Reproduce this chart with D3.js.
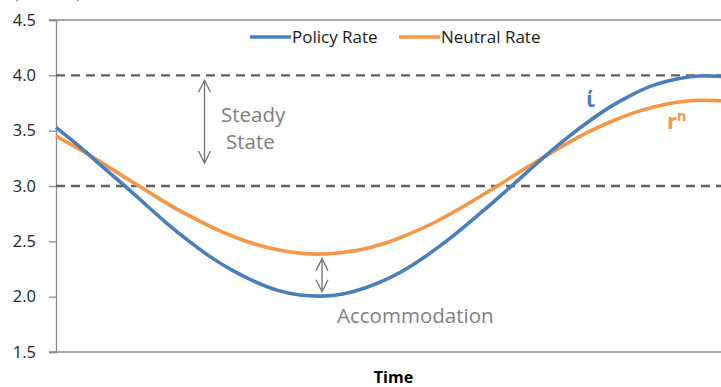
<!DOCTYPE html>
<html>
<head>
<meta charset="utf-8">
<script src="https://cdn.jsdelivr.net/npm/d3@7"></script>
<style>
  html, body { margin: 0; padding: 0; background: #fff; }
  svg { display: block; font-family: "Open Sans", "Noto Sans", sans-serif; }
</style>
</head>
<body>
<svg id="chart" width="721" height="387"></svg>
<script>
// Time steps along the cycle
const timeSteps = d3.range(0, 31);
// Policy rate (percent) at each time step
const policyRate = [3.53, 3.37, 3.19, 3.02, 2.84, 2.66, 2.50, 2.35, 2.23, 2.13, 2.05, 2.01, 2.00, 2.02, 2.08, 2.16,
  2.27, 2.41, 2.56, 2.73, 2.90, 3.08, 3.26, 3.43, 3.58, 3.72, 3.83, 3.92, 3.97, 4.00, 3.99];
// Neutral rate (percent) at each time step
const neutralRate = [3.45, 3.34, 3.22, 3.09, 2.97, 2.84, 2.73, 2.63, 2.54, 2.47, 2.42, 2.39, 2.38, 2.40, 2.43, 2.49,
  2.57, 2.66, 2.77, 2.89, 3.01, 3.14, 3.26, 3.38, 3.49, 3.58, 3.66, 3.72, 3.76, 3.78, 3.77];
// Steady-state band bounds
const steadyBand = [4.0, 3.0];
// Y axis ticks
const yTicks = [1.5, 2.0, 2.5, 3.0, 3.5, 4.0, 4.5];
const seriesNames = ["Policy Rate", "Neutral Rate"];
const colors = { policy: "#4a7ebb", neutral: "#f79646" };

const svg = d3.select("#chart");
const plotLeft = 56, plotRight = 721, plotTop = 20, plotBottom = 352;

const x = d3.scaleLinear().domain([0, 30]).range([plotLeft, plotRight]);
const y = d3.scaleLinear().domain([1.5, 4.5]).range([plotBottom, plotTop]);

// Unit label (partly above the frame)
svg.append("text").attr("x", 14).attr("y", -1).attr("font-size", 16)
  .attr("fill", colors.policy).text("(Percent)");

// Top frame line and bottom axis line
svg.append("line").attr("x1", 49).attr("x2", plotRight).attr("y1", y(4.5)).attr("y2", y(4.5))
  .attr("stroke", "#8c8c8c").attr("stroke-width", 1.3);
svg.append("line").attr("x1", 49).attr("x2", plotRight).attr("y1", y(1.5)).attr("y2", y(1.5))
  .attr("stroke", "#8c8c8c").attr("stroke-width", 1.3);

// Y axis
const yAxis = d3.axisLeft(y).tickValues(yTicks).tickFormat(d3.format(".1f")).tickSize(7).tickPadding(13);
const gy = svg.append("g").attr("transform", `translate(${plotLeft},0)`).call(yAxis);
gy.select(".domain").attr("stroke", "#8c8c8c").attr("stroke-width", 1.3);
gy.selectAll(".tick line").attr("stroke", "#8c8c8c").attr("stroke-width", 1.3);
gy.selectAll(".tick text").attr("font-size", 16.5).attr("fill", "#262626")
  .attr("font-family", "'Open Sans', sans-serif");

// Steady-state dashed lines
svg.selectAll(".band").data(steadyBand).enter().append("line")
  .attr("x1", plotLeft).attr("x2", plotRight)
  .attr("y1", d => y(d)).attr("y2", d => y(d))
  .attr("stroke", "#5f5f5f").attr("stroke-width", 2.4).attr("stroke-dasharray", "9,6");

// Series lines
const line = d3.line().x((d, i) => x(timeSteps[i])).y(d => y(d)).curve(d3.curveBasis);
svg.append("path").datum(neutralRate).attr("d", line).attr("fill", "none")
  .attr("stroke", colors.neutral).attr("stroke-width", 3.6);
svg.append("path").datum(policyRate).attr("d", line).attr("fill", "none")
  .attr("stroke", colors.policy).attr("stroke-width", 3.6);

// Double-headed arrows
function doubleArrow(xp, y1, y2) {
  const g = svg.append("g").attr("stroke", "#6e6e6e").attr("stroke-width", 1.3).attr("fill", "none");
  g.append("line").attr("x1", xp).attr("x2", xp).attr("y1", y1).attr("y2", y2);
  g.append("path").attr("d", `M${xp - 6},${y1 + 12}L${xp},${y1}L${xp + 6},${y1 + 12}`);
  g.append("path").attr("d", `M${xp - 6},${y2 - 12}L${xp},${y2}L${xp + 6},${y2 - 12}`);
}
doubleArrow(x(6.7), y(4.0) + 5, y(3.0) - 23);
doubleArrow(x(12), y(2.38) + 4, y(2.0) - 5);

// Annotations
const note = svg.append("g").attr("fill", "#7f7f7f").attr("font-size", 20.5);
note.append("text").attr("x", 221).attr("y", 122).text("Steady");
note.append("text").attr("x", 226).attr("y", 149).text("State");
note.append("text").attr("x", 337).attr("y", 323).text("Accommodation");

svg.append("text").attr("x", 586).attr("y", 107).attr("font-size", 22).attr("font-weight", "bold")
  .attr("fill", colors.policy).text("ί");
const rn = svg.append("text").attr("x", 667).attr("y", 129).attr("font-size", 22).attr("font-weight", "bold")
  .attr("fill", colors.neutral);
rn.append("tspan").text("r");
rn.append("tspan").attr("font-size", 14).attr("dy", -8).text("n");

// Legend
const legend = svg.append("g").attr("font-size", 17).attr("fill", "#1a1a1a");
const legendItems = [
  { name: seriesNames[0], color: colors.policy, x0: 250 },
  { name: seriesNames[1], color: colors.neutral, x0: 399 }
];
legendItems.forEach(it => {
  legend.append("line").attr("x1", it.x0).attr("x2", it.x0 + 41).attr("y1", 37).attr("y2", 37)
    .attr("stroke", it.color).attr("stroke-width", 3.6);
  legend.append("text").attr("x", it.x0 + 42).attr("y", 43).text(it.name);
});

// X axis title
svg.append("text").attr("x", 393.5).attr("y", 383).attr("text-anchor", "middle")
  .attr("font-size", 16).attr("font-weight", "bold").attr("fill", "#000").text("Time");
</script>
</body>
</html>
